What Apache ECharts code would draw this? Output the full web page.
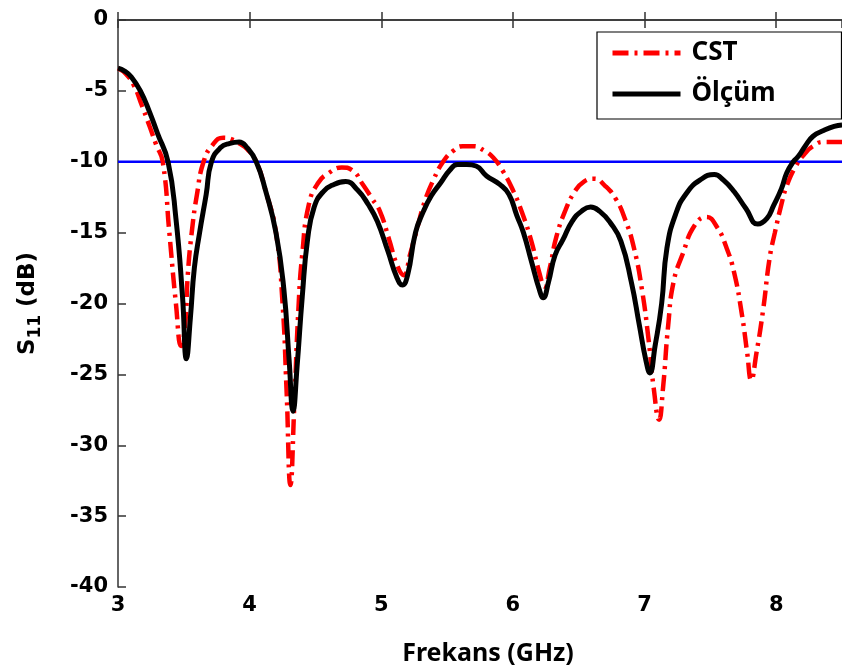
<!DOCTYPE html>
<html>
<head>
<meta charset="utf-8">
<script src="https://cdn.jsdelivr.net/npm/echarts@6/dist/echarts.min.js"></script>
<style>
  html, body {margin: 0; padding: 0; background: #fff;}
  #main {width: 842px; height: 671px;}
</style>
</head>
<body>
<div id="main"></div>
<script>
// Ölçüm (measured) curve
const freqMeas = [3.00, 3.05, 3.10, 3.17, 3.24, 3.30, 3.38, 3.44, 3.49, 3.52, 3.55, 3.58, 3.62, 3.67, 3.71, 3.78, 3.85, 3.92, 3.98,
  4.05, 4.12, 4.20, 4.26, 4.30, 4.33, 4.36, 4.40, 4.44, 4.49, 4.56, 4.64, 4.73, 4.82, 4.90, 4.97, 5.05, 5.12, 5.16, 5.20,
  5.26, 5.32, 5.38, 5.45, 5.52, 5.58, 5.65, 5.72, 5.80, 5.90, 5.97, 6.03, 6.08, 6.14, 6.20, 6.23, 6.27, 6.32, 6.38, 6.45,
  6.52, 6.59, 6.66, 6.74, 6.82, 6.90, 6.96, 7.01, 7.04, 7.08, 7.13, 7.17, 7.24, 7.32, 7.42, 7.53, 7.60, 7.68, 7.77, 7.86,
  7.93, 7.98, 8.04, 8.08, 8.13, 8.17, 8.22, 8.28, 8.36, 8.44, 8.50];
const s11Meas = [-3.4, -3.6, -4.0, -5.0, -6.5, -8.0, -10.0, -14.0, -19.5, -23.9, -21.0, -17.5, -15.0, -12.3, -10.0, -9.0, -8.7, -8.6, -9.0,
  -10.0, -12.0, -15.0, -19.0, -24.0, -27.6, -24.5, -19.5, -15.5, -13.2, -12.1, -11.6, -11.4, -12.0, -13.0, -14.2, -16.3, -18.2, -18.7, -18.0,
  -15.0, -13.5, -12.4, -11.5, -10.6, -10.2, -10.2, -10.3, -11.0, -11.6, -12.3, -13.8, -15.0, -17.0, -19.0, -19.6, -18.5, -16.6, -15.5, -14.2,
  -13.5, -13.2, -13.5, -14.3, -15.6, -18.5, -21.5, -24.0, -24.9, -23.0, -20.0, -16.1, -13.6, -12.2, -11.3, -10.9, -11.3, -12.1, -13.3, -14.4,
  -14.0, -13.1, -11.9, -10.8, -10.0, -9.6, -8.9, -8.2, -7.8, -7.5, -7.4];

// CST (simulated) curve
const freqCst = [3.00, 3.06, 3.12, 3.18, 3.24, 3.29, 3.34, 3.39, 3.44, 3.48, 3.51, 3.53, 3.56, 3.60, 3.65, 3.72, 3.80, 3.86, 3.92, 3.98,
  4.05, 4.12, 4.20, 4.25, 4.28, 4.31, 4.34, 4.37, 4.40, 4.45, 4.52, 4.60, 4.70, 4.78, 4.86, 4.93, 4.99, 5.06, 5.12, 5.17,
  5.22, 5.27, 5.33, 5.40, 5.47, 5.55, 5.62, 5.70, 5.78, 5.85, 5.92, 6.00, 6.07, 6.14, 6.20, 6.24, 6.28, 6.33, 6.40, 6.47,
  6.54, 6.62, 6.70, 6.78, 6.85, 6.92, 6.98, 7.03, 7.07, 7.11, 7.14, 7.18, 7.22, 7.29, 7.38, 7.47, 7.55, 7.62, 7.68, 7.74,
  7.78, 7.81, 7.85, 7.90, 7.95, 7.99, 8.04, 8.08, 8.15, 8.22, 8.28, 8.36, 8.44, 8.50];
const s11Cst = [-3.4, -3.8, -4.6, -6.0, -7.5, -8.8, -10.0, -15.0, -20.0, -23.0, -21.5, -18.0, -15.0, -12.3, -10.0, -8.8, -8.3, -8.4, -8.7, -9.1,
  -10.0, -12.0, -15.0, -20.0, -26.0, -32.8, -27.0, -20.5, -16.5, -13.0, -11.5, -10.8, -10.4, -10.6, -11.6, -12.6, -13.5, -15.5, -17.3, -18.0,
  -16.5, -14.8, -12.8, -11.2, -10.0, -9.2, -8.9, -8.9, -9.2, -9.7, -10.6, -12.0, -13.6, -15.6, -17.8, -18.8, -17.5, -15.3, -13.4, -12.1,
  -11.4, -11.2, -11.7, -12.6, -14.0, -16.1, -19.0, -22.5, -26.0, -28.2, -26.0, -21.5, -18.5, -16.5, -14.5, -13.9, -14.6, -16.0, -17.8, -20.8,
  -23.5, -25.4, -23.5, -20.5, -16.8, -15.0, -13.0, -11.7, -10.3, -9.4, -8.9, -8.6, -8.6, -8.6];

// -10 dB reference line
const refFreq = [3, 8.5];
const refLevel = [-10, -10];

const seriesNames = ['CST', 'Ölçüm'];

function zip(xs, ys) {
  return xs.map((x, i) => [x, ys[i]]);
}

const chart = echarts.init(document.getElementById('main'));

const tickFont = {
  color: '#000',
  fontFamily: 'DejaVu Sans',
  fontWeight: 'bold',
  fontSize: 21
};

chart.setOption({
  animation: false,
  backgroundColor: '#fff',
  grid: {left: 118, top: 20, right: -8, bottom: 81},
  legend: {
    data: seriesNames,
    orient: 'vertical',
    left: 597,
    top: 32,
    padding: [6, 66, 10, 13],
    itemGap: 11,
    itemWidth: 68,
    itemHeight: 14,
    borderColor: '#000',
    borderWidth: 1.2,
    backgroundColor: '#fff',
    itemStyle: {opacity: 0},
    lineStyle: {width: 5},
    textStyle: {
      color: '#000',
      fontFamily: 'Noto Sans',
      fontWeight: 'bold',
      fontSize: 26,
      lineHeight: 30,
      padding: [0, 0, 0, 6]
    }
  },
  xAxis: [{
    type: 'value',
    min: 3,
    max: 8.5,
    interval: 1,
    name: 'Frekans (GHz)',
    nameLocation: 'middle',
    nameGap: 54,
    nameTextStyle: {
      color: '#000',
      fontFamily: 'Noto Sans',
      fontWeight: 'bold',
      fontSize: 25,
      padding: [0, 0, 0, 16]
    },
    axisLine: {lineStyle: {color: '#333', width: 1.5}},
    axisTick: {inside: true, length: 8, lineStyle: {color: '#333', width: 1.5}},
    axisLabel: Object.assign({margin: 8, showMaxLabel: false}, tickFont),
    splitLine: {show: false}
  }, {
    type: 'value',
    position: 'top',
    min: 3,
    max: 8.5,
    interval: 1,
    axisLine: {lineStyle: {color: '#333', width: 1.5}},
    axisTick: {inside: true, length: 8, lineStyle: {color: '#333', width: 1.5}},
    axisLabel: {show: false},
    splitLine: {show: false}
  }],
  yAxis: {
    type: 'value',
    min: -40,
    max: 0,
    interval: 5,
    name: '{s|S}{sub|11}{s| (dB)}',
    nameLocation: 'middle',
    nameGap: 74,
    nameRotate: 90,
    nameTextStyle: {
      rich: {
        s: {color: '#000', fontFamily: 'DejaVu Sans', fontWeight: 'bold', fontSize: 23},
        sub: {color: '#000', fontFamily: 'DejaVu Sans', fontWeight: 'bold', fontSize: 17, verticalAlign: 'bottom', padding: [14, 0, 0, 0]}
      }
    },
    axisLine: {show: true, lineStyle: {color: '#333', width: 1.5}},
    axisTick: {show: true, inside: true, length: 8, lineStyle: {color: '#333', width: 1.5}},
    axisLabel: Object.assign({margin: 10}, tickFont),
    splitLine: {show: false}
  },
  series: [{
    name: 'ref',
    type: 'line',
    data: zip(refFreq, refLevel),
    symbol: 'none',
    silent: true,
    lineStyle: {color: '#0000ff', width: 2.5},
    z: 1
  }, {
    name: 'CST',
    type: 'line',
    data: zip(freqCst, s11Cst),
    symbol: 'none',
    smooth: 0.5,
    itemStyle: {color: '#ff0000'},
    lineStyle: {color: '#ff0000', width: 4.5, type: [16, 6, 3, 6]},
    z: 2
  }, {
    name: 'Ölçüm',
    type: 'line',
    data: zip(freqMeas, s11Meas),
    symbol: 'none',
    smooth: 0.5,
    itemStyle: {color: '#000'},
    lineStyle: {color: '#000', width: 5},
    z: 3
  }]
});
</script>
</body>
</html>
